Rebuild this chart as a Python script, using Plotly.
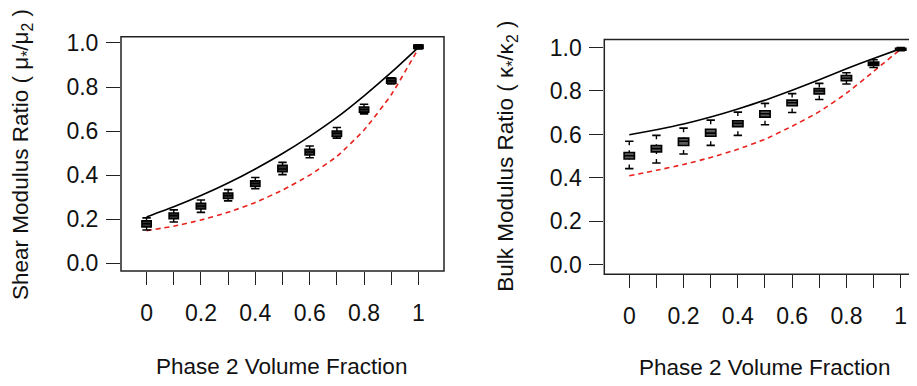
import plotly.graph_objects as go

W, H = 917, 386
OFF = 8  # page body margin of the exported html
FW, FH = W - OFF, H - OFF

# ---------------- data ----------------
vol_frac = [0.0, 0.1, 0.2, 0.3, 0.4, 0.5, 0.6, 0.7, 0.8, 0.9, 1.0]
x_tick_text = ["0", "", "0.2", "", "0.4", "", "0.6", "", "0.8", "", "1"]
y_tick_vals = [0.0, 0.2, 0.4, 0.6, 0.8, 1.0]
y_tick_text = ["0.0", "0.2", "0.4", "0.6", "0.8", "1.0"]

# Shear modulus ratio
shear_upper = [0.210, 0.256, 0.307, 0.364, 0.428, 0.498, 0.576, 0.662, 0.760, 0.866, 0.980]
shear_lower = [0.148, 0.168, 0.196, 0.231, 0.276, 0.332, 0.400, 0.485, 0.605, 0.765, 0.975]
shear_med = [0.179, 0.216, 0.260, 0.307, 0.362, 0.428, 0.505, 0.590, 0.698, 0.828, 0.982]
shear_q3 = [0.192, 0.228, 0.272, 0.319, 0.374, 0.444, 0.517, 0.600, 0.709, 0.839, 0.990]
shear_q1 = [0.165, 0.202, 0.246, 0.294, 0.349, 0.415, 0.491, 0.575, 0.686, 0.817, 0.975]
shear_hi = [0.206, 0.242, 0.287, 0.334, 0.389, 0.458, 0.532, 0.616, 0.722, 0.842, 0.992]
shear_lo = [0.151, 0.187, 0.231, 0.283, 0.338, 0.402, 0.479, 0.568, 0.678, 0.814, 0.973]

# Bulk modulus ratio
bulk_upper = [0.599, 0.622, 0.648, 0.680, 0.717, 0.758, 0.804, 0.852, 0.902, 0.950, 0.995]
bulk_lower = [0.410, 0.435, 0.462, 0.494, 0.532, 0.578, 0.638, 0.705, 0.790, 0.890, 0.993]
bulk_med = [0.502, 0.535, 0.569, 0.606, 0.651, 0.695, 0.746, 0.800, 0.859, 0.926, 0.993]
bulk_q3 = [0.517, 0.549, 0.583, 0.624, 0.663, 0.709, 0.758, 0.811, 0.871, 0.933, 0.997]
bulk_q1 = [0.487, 0.520, 0.549, 0.592, 0.636, 0.680, 0.732, 0.787, 0.847, 0.918, 0.988]
bulk_hi = [0.569, 0.596, 0.629, 0.666, 0.703, 0.743, 0.788, 0.835, 0.884, 0.944, 1.000]
bulk_lo = [0.443, 0.469, 0.510, 0.550, 0.596, 0.645, 0.701, 0.761, 0.832, 0.908, 0.985]

FONT = "Liberation Sans, Arial, Helvetica, sans-serif"
INK = "#111111"
FS_TICK = 23
FS_TITLE = 22.5


def px_x(p):
    return (p - OFF) / FW


def px_y(p):
    return 1 - (p - OFF) / FH


fig = go.Figure()


def add_panel(xr, yr, upper, lower, med, q1, q3, lo, hi, fill, box_w):
    fig.add_trace(go.Scatter(x=vol_frac, y=upper, mode="lines",
                             line=dict(color="black", width=1.6, shape="spline", smoothing=0.5),
                             xaxis=xr, yaxis=yr, showlegend=False, hoverinfo="skip"))
    fig.add_trace(go.Scatter(x=vol_frac, y=lower, mode="lines",
                             line=dict(color="#e8211c", width=1.6, dash="5px,4px",
                                       shape="spline", smoothing=0.5),
                             xaxis=xr, yaxis=yr, showlegend=False, hoverinfo="skip"))
    # whisker stems (dashed, drawn from fence toward box)
    wx, wy = [], []
    for i, xv in enumerate(vol_frac):
        wx += [xv, xv, None, xv, xv, None]
        wy += [hi[i], q3[i], None, lo[i], q1[i], None]
    fig.add_trace(go.Scatter(x=wx, y=wy, mode="lines",
                             line=dict(color="black", width=1.4, dash="4px,5px"),
                             xaxis=xr, yaxis=yr, showlegend=False, hoverinfo="skip"))
    # whisker caps
    fig.add_trace(go.Scatter(x=vol_frac + vol_frac, y=hi + lo, mode="markers",
                             marker=dict(symbol="line-ew", size=6,
                                         line=dict(color="black", width=1.6)),
                             xaxis=xr, yaxis=yr, showlegend=False, hoverinfo="skip"))
    # boxes
    fig.add_trace(go.Box(x=vol_frac, q1=q1, median=med, q3=q3,
                         lowerfence=q1, upperfence=q3, width=box_w, whiskerwidth=0,
                         fillcolor=fill, line=dict(color="black", width=1.6),
                         xaxis=xr, yaxis=yr, showlegend=False, hoverinfo="skip"))


add_panel("x", "y", shear_upper, shear_lower, shear_med, shear_q1, shear_q3,
          shear_lo, shear_hi, "#333333", 0.034)
add_panel("x2", "y2", bulk_upper, bulk_lower, bulk_med, bulk_q1, bulk_q3,
          bulk_lo, bulk_hi, "#5a5a5a", 0.038)

xaxis_common = dict(tickmode="array", tickvals=vol_frac, ticktext=x_tick_text,
                    ticks="outside", ticklen=13, tickwidth=1.4, tickcolor="#222",
                    showgrid=False, zeroline=False, showline=False,
                    tickfont=dict(family=FONT, size=FS_TICK, color=INK),
                    ticklabelstandoff=8)
yaxis_common = dict(tickmode="array", tickvals=y_tick_vals, ticktext=y_tick_text,
                    ticks="outside", ticklen=14, tickwidth=1.4, tickcolor="#222",
                    showgrid=False, zeroline=False, showline=False,
                    tickfont=dict(family=FONT, size=FS_TICK, color=INK),
                    ticklabelstandoff=3)

L_left, L_right, L_top, L_bot = 121, 444, 30.5, 272.3
R_left, R_top, R_bot = 604.3, 33.3, 275.7

fig.update_layout(
    width=FW, height=FH,
    margin=dict(l=0, r=0, t=0, b=0),
    paper_bgcolor="white", plot_bgcolor="white",
    boxmode="overlay",
    font=dict(family=FONT, size=FS_TITLE, color=INK),
    xaxis=dict(domain=[px_x(L_left), px_x(L_right)], range=[-0.094, 1.094],
               anchor="y", **xaxis_common),
    yaxis=dict(domain=[px_y(L_bot), px_y(L_top)], range=[-0.035, 1.028],
               anchor="x", **yaxis_common),
    xaxis2=dict(domain=[px_x(R_left), 1.0], range=[-0.092, 1.06],
                anchor="y2", **xaxis_common),
    yaxis2=dict(domain=[px_y(R_bot), px_y(R_top)], range=[-0.043, 1.037],
                anchor="x2", **yaxis_common),
)

# plot frames
fig.add_shape(type="rect", xref="paper", yref="paper",
              x0=px_x(L_left), x1=px_x(L_right), y0=px_y(L_bot), y1=px_y(L_top),
              line=dict(color="#222", width=1.5), fillcolor="rgba(0,0,0,0)")
fig.add_shape(type="rect", xref="paper", yref="paper",
              x0=px_x(R_left), x1=px_x(930), y0=px_y(R_bot), y1=px_y(R_top),
              line=dict(color="#222", width=1.5), fillcolor="rgba(0,0,0,0)")

# axis titles
fig.add_annotation(text="Phase 2 Volume Fraction", xref="paper", yref="paper",
                   x=px_x(281), y=px_y(371), showarrow=False,
                   xanchor="center", yanchor="middle", font=dict(size=FS_TITLE))
fig.add_annotation(text="Phase 2 Volume Fraction", xref="paper", yref="paper",
                   x=px_x(764), y=px_y(372), showarrow=False,
                   xanchor="center", yanchor="middle", font=dict(size=FS_TITLE))
fig.add_annotation(text="Shear Modulus Ratio ( μ<sub>*</sub>/μ<sub>2</sub> )",
                   xref="paper", yref="paper", x=px_x(22.5), y=px_y(152),
                   textangle=-90, showarrow=False, xanchor="center", yanchor="middle",
                   font=dict(size=FS_TITLE))
fig.add_annotation(text="Bulk Modulus Ratio ( κ<sub>*</sub>/κ<sub>2</sub> )",
                   xref="paper", yref="paper", x=px_x(507.5), y=px_y(154),
                   textangle=-90, showarrow=False, xanchor="center", yanchor="middle",
                   font=dict(size=FS_TITLE))

fig.write_html("out.html")
